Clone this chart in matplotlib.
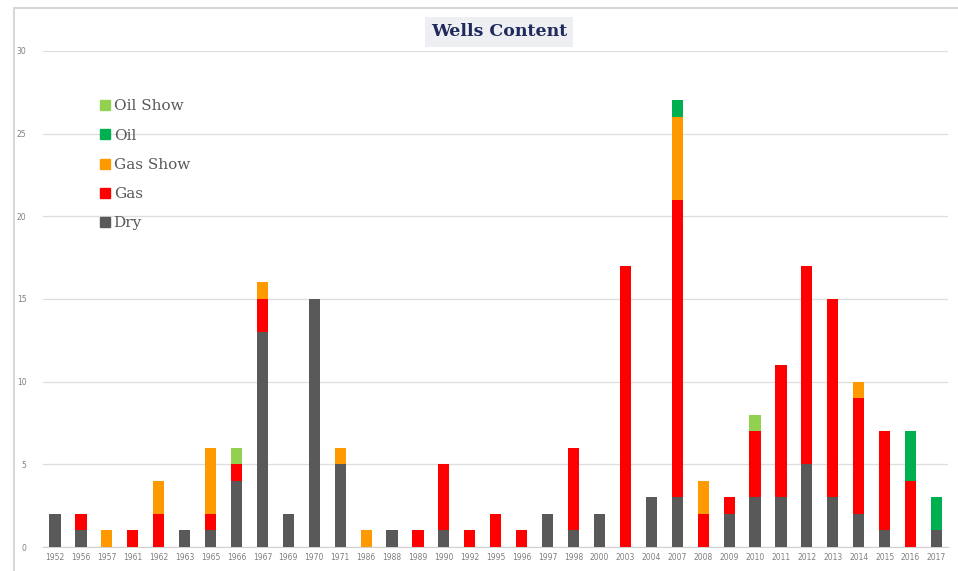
import numpy as np
import matplotlib
matplotlib.use("Agg")
import matplotlib.pyplot as plt
from matplotlib.lines import Line2D

# data
years = ["1952", "1956", "1957", "1961", "1962", "1963", "1965", "1966", "1967",
         "1969", "1970", "1971", "1986", "1988", "1989", "1990", "1992", "1995",
         "1996", "1997", "1998", "2000", "2003", "2004", "2007", "2008", "2009",
         "2010", "2011", "2012", "2013", "2014", "2015", "2016", "2017"]
dry      = [2, 1, 0, 0, 0, 1, 1, 4, 13, 2, 15, 5, 0, 1, 0, 1, 0, 0, 0, 2, 1, 2, 0, 3, 3, 0, 2, 3, 3, 5, 3, 2, 1, 0, 1]
gas      = [0, 1, 0, 1, 2, 0, 1, 1, 2, 0, 0, 0, 0, 0, 1, 4, 1, 2, 1, 0, 5, 0, 17, 0, 18, 2, 1, 4, 8, 12, 12, 7, 6, 4, 0]
gas_show = [0, 0, 1, 0, 2, 0, 4, 0, 1, 0, 0, 1, 1, 0, 0, 0, 0, 0, 0, 0, 0, 0, 0, 0, 5, 2, 0, 0, 0, 0, 0, 1, 0, 0, 0]
oil      = [0, 0, 0, 0, 0, 0, 0, 0, 0, 0, 0, 0, 0, 0, 0, 0, 0, 0, 0, 0, 0, 0, 0, 0, 1, 0, 0, 0, 0, 0, 0, 0, 0, 3, 2]
oil_show = [0, 0, 0, 0, 0, 0, 0, 1, 0, 0, 0, 0, 0, 0, 0, 0, 0, 0, 0, 0, 0, 0, 0, 0, 0, 0, 0, 1, 0, 0, 0, 0, 0, 0, 0]

series = [("Dry", dry, "#595959"),
          ("Gas", gas, "#ff0000"),
          ("Gas Show", gas_show, "#ff9900"),
          ("Oil", oil, "#00b050"),
          ("Oil Show", oil_show, "#92d050")]

fig = plt.figure(figsize=(9.58, 5.71), dpi=100)
ax = fig.add_axes([0.045, 0.042, 0.945, 0.869])

x = np.arange(len(years))
bottom = np.zeros(len(years))
for name, vals, col in series:
    vals = np.array(vals, dtype=float)
    ax.bar(x, vals, width=0.43, bottom=bottom, color=col, label=name, zorder=3)
    bottom += vals

ax.set_xlim(-0.46, len(years) - 1 + 0.46)
ax.set_ylim(0, 30)
ax.set_yticks([0, 5, 10, 15, 20, 25, 30])
ax.set_xticks(x)
ax.set_xticklabels(years)
ax.tick_params(axis="both", length=0, labelsize=5.5, colors="#7f7f7f")
ax.tick_params(axis="y", pad=12)
ax.tick_params(axis="x", pad=4)
ax.grid(axis="y", color="#dedede", linewidth=0.9, zorder=0)
for s in ["top", "right", "left"]:
    ax.spines[s].set_visible(False)
ax.spines["bottom"].set_color("#d0d0d0")

# legend (reversed order, top-left)
handles = [Line2D([0], [0], marker="s", linestyle="none", markersize=6.5,
                  markerfacecolor=col, markeredgecolor=col)
           for name, vals, col in series[::-1]]
labels = [name for name, vals, col in series[::-1]]
leg = ax.legend(handles, labels, loc="upper left", bbox_to_anchor=(0.045, 0.93),
                frameon=False, prop={"family": "DejaVu Serif", "size": 11},
                labelspacing=1.0, handletextpad=0.05, handlelength=1.0)
for t in leg.get_texts():
    t.set_color("#595959")

# title with a light box
fig.text(0.521, 0.944, "Wells Content", ha="center", va="center",
         fontsize=12.5, fontweight="bold", family="DejaVu Serif", color="#1f2a5c",
         bbox=dict(boxstyle="square,pad=0.35", facecolor="#eeeff2", edgecolor="none"))

# outer frame lines (top and left)
fig.add_artist(Line2D([14 / 958, 1.0], [1 - 8 / 571, 1 - 8 / 571], color="#d8d8d8", linewidth=1.5))
fig.add_artist(Line2D([14 / 958, 14 / 958], [0.0, 1 - 8 / 571], color="#d8d8d8", linewidth=1.5))

fig.savefig("out.png", dpi=100)
